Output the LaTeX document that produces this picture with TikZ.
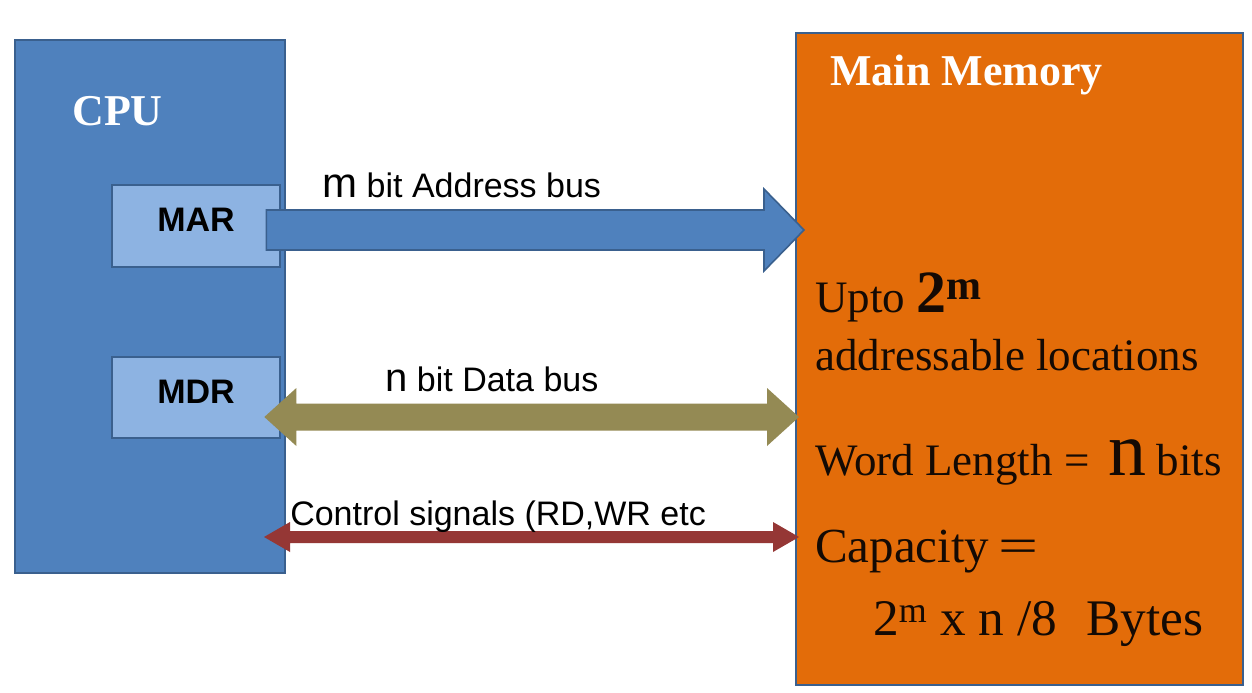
\documentclass[tikz,border=0pt]{standalone}
\usepackage{fontspec}
\usepackage{graphicx}
\setmainfont{Liberation Serif}
\newfontfamily\arialf{Liberation Sans}
\usetikzlibrary{calc}
\definecolor{cpublue}{RGB}{79,129,189}
\definecolor{edgeblue}{RGB}{58,96,142}
\definecolor{regblue}{RGB}{141,179,226}
\definecolor{databus}{RGB}{148,138,84}
\definecolor{ctrlbus}{RGB}{149,55,53}
\definecolor{memorange}{RGB}{227,108,9}
\definecolor{memtext}{RGB}{20,10,4}
\begin{document}
\begin{tikzpicture}[x=0.75pt,y=-0.75pt,
  bigbox/.style={draw=edgeblue, line width=1.5pt, inner sep=0, rectangle},
  regbox/.style={draw=edgeblue, line width=2pt, fill=regblue, inner sep=0, rectangle,
     minimum width=126pt, font=\arialf\bfseries\fontsize{25.5pt}{28pt}\selectfont, text=black, text depth=9pt},
  txt/.style={anchor=base west, inner sep=0},
  title/.style={txt, text=white, font=\bfseries\fontsize{33pt}{36pt}\selectfont},
  memtxt/.style={txt, text=memtext, font=\fontsize{33.75pt}{36pt}\selectfont},
  lbl/.style={txt, text=black, font=\arialf\fontsize{25.5pt}{28pt}\selectfont},
  addrbus/.style={fill=cpublue, draw=edgeblue, line width=1.2pt, line join=miter},
  databusst/.style={fill=databus},
  ctrlbusst/.style={fill=ctrlbus}
]
\useasboundingbox (0,0) rectangle (1252,692);
\fill[white] (0,0) rectangle (1252,692);

% boxes
\node[bigbox, fill=cpublue, minimum width=202.5pt, minimum height=399.75pt] (cpu) at (150,306.5) {};
\node[bigbox, fill=memorange, minimum width=335.25pt, minimum height=489pt] (mem) at (1019.5,359) {};
\node[regbox, minimum height=61.5pt] (MAR) at (196,226) {MAR};
\node[regbox, minimum height=60.75pt] (MDR) at (196,397.5) {MDR};

% bus end points
\coordinate (aS) at ($(MAR.east)+(-15,4)$);
\coordinate (aE) at ($(mem.west|-aS)+(9,0)$);
\coordinate (dS) at ($(MDR.east)+(-17,19.5)$);
\coordinate (dE) at ($(mem.west|-dS)+(4,0)$);
\coordinate (cS) at ($(cpu.east|-0,537)+(-22,0)$);
\coordinate (cE) at ($(mem.west|-cS)+(4,0)$);

% address bus
\draw[addrbus] ($(aS)+(0,-20)$) -- ($(aE)+(-40,-20)$) -- ($(aE)+(-40,-41)$) -- (aE)
  -- ($(aE)+(-40,41)$) -- ($(aE)+(-40,20)$) -- ($(aS)+(0,20)$) -- cycle;
% data bus
\fill[databusst] (dS) -- ($(dS)+(32,-29)$) -- ($(dS)+(32,-13.5)$) -- ($(dE)+(-32,-13.5)$)
  -- ($(dE)+(-32,-29)$) -- (dE) -- ($(dE)+(-32,29)$) -- ($(dE)+(-32,13.5)$)
  -- ($(dS)+(32,13.5)$) -- ($(dS)+(32,29)$) -- cycle;
% control bus
\fill[ctrlbusst] (cS) -- ($(cS)+(26,-15)$) -- ($(cS)+(26,-6)$) -- ($(cE)+(-26,-6)$)
  -- ($(cE)+(-26,-15)$) -- (cE) -- ($(cE)+(-26,15)$) -- ($(cE)+(-26,6)$)
  -- ($(cS)+(26,6)$) -- ($(cS)+(26,15)$) -- cycle;

% titles
\node[title] (cputitle) at (72,125) {CPU};
\node[title] (memtitle) at (830,85) {Main Memory};

% bus labels
\node[lbl] (albl) at (322,197) {{\fontsize{31.5pt}{32pt}\selectfont m} bit Address bus};
\node[lbl] (dlbl) at (385,391) {{\fontsize{30pt}{32pt}\selectfont n} bit Data bus};
\node[lbl] (clbl) at (290,525) {Control signals (RD,WR etc};

% memory text
\node[memtxt] (upto) at (815,312) {Upto {\bfseries\fontsize{45pt}{45pt}\selectfont 2\textsuperscript{m}}};
\node[memtxt] (addrloc) at (815,370) {addressable locations};
\node[memtxt] (wordlen) at (815,475) {Word Length =\hspace{14pt}{\fontsize{57pt}{57pt}\selectfont n}\hspace{8pt}bits};
\node[memtxt, font=\fontsize{36.75pt}{40pt}\selectfont] (capa) at (815,562) {Capacity\hspace{7pt}\scalebox{1.45}[1]{=}};
\node[memtxt, font=\fontsize{38.5pt}{40pt}\selectfont] (capval) at (873,635) {2\textsuperscript{m} x n /8\hspace{22pt}Bytes};
\end{tikzpicture}
\end{document}
